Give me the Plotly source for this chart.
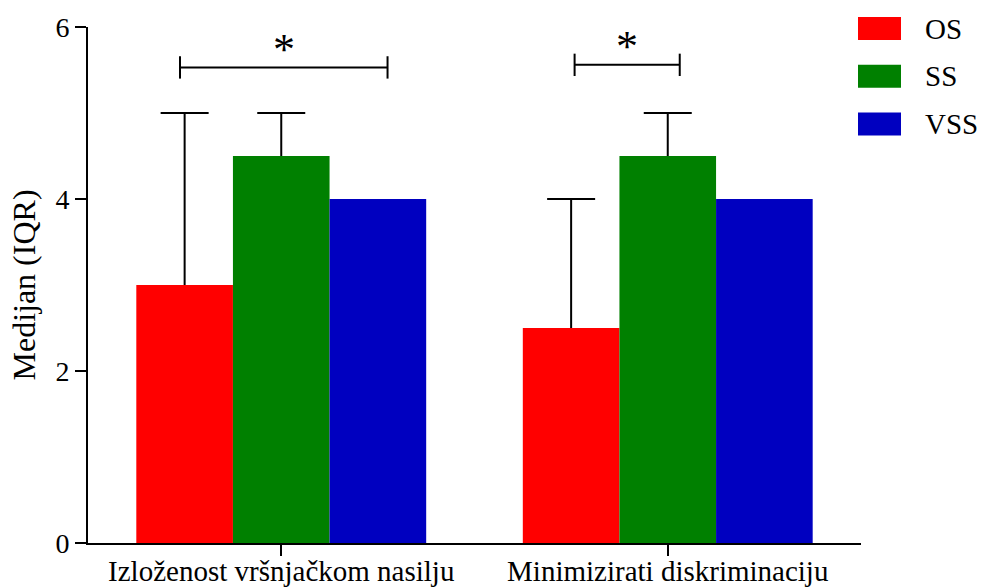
import plotly.graph_objects as go

# ---- data ----
categories = ["Izloženost vršnjačkom nasilju", "Minimizirati diskriminaciju"]
series_names = ["OS", "SS", "VSS"]
series_colors = ["#FF0000", "#008000", "#0000C0"]
median_os = [3.0, 2.5]
median_ss = [4.5, 4.5]
median_vss = [4.0, 4.0]
q3_os = [5.0, 4.0]
q3_ss = [5.0, 5.0]
q3_vss = [4.0, 4.0]
y_ticks = [0, 2, 4, 6]

medians = [median_os, median_ss, median_vss]
q3s = [q3_os, q3_ss, q3_vss]

FONT = "Liberation Serif"
W, H = 982, 587
ML, MR, MT, MB = 88, 121, 27, 44
PW, PH = W - ML - MR, H - MT - MB

fig = go.Figure()

# error-bar carriers (drawn first, so the visible bars cover the lower part)
for i, name in enumerate(series_names):
    plus = [(q - m) if (q - m) > 0 else None for q, m in zip(q3s[i], medians[i])]
    if all(p is None for p in plus):
        continue
    fig.add_trace(go.Bar(
        x=categories, y=medians[i], offsetgroup=str(i),
        marker=dict(color="rgba(0,0,0,0)", line=dict(width=0)),
        error_y=dict(type="data", symmetric=False, array=plus,
                     arrayminus=medians[i], color="black", thickness=2, width=24),
        showlegend=False, hoverinfo="skip",
    ))

# visible bars
for i, name in enumerate(series_names):
    fig.add_trace(go.Bar(
        x=categories, y=medians[i], name=name, offsetgroup=str(i),
        marker=dict(color=series_colors[i], line=dict(width=0)),
        showlegend=False,
    ))

# significance brackets (x in category units, y in data units)
brackets = [(-0.262, 0.275, 5.53), (0.759, 1.031, 5.56)]
shapes = []
annotations = []
for x0, x1, yb in brackets:
    line = dict(color="black", width=2)
    shapes.append(dict(type="line", xref="x", yref="y", x0=x0, x1=x1, y0=yb, y1=yb, line=line))
    for xe in (x0, x1):
        shapes.append(dict(type="line", xref="x", yref="y", x0=xe, x1=xe,
                           y0=yb - 0.13, y1=yb + 0.13, line=line))
    annotations.append(dict(xref="x", yref="y", x=(x0 + x1) / 2, y=yb - 0.1,
                            text="*", showarrow=False, yanchor="bottom",
                            font=dict(family=FONT, size=44, color="black")))

# custom legend (paper coords from pixel layout)
def px_x(p):
    return (p - ML) / PW

def px_y(p):
    return (H - MB - p) / PH

for i, name in enumerate(series_names):
    cy = 28.5 + i * 47.8
    shapes.append(dict(type="rect", xref="paper", yref="paper",
                       x0=px_x(858), x1=px_x(901), y0=px_y(cy + 11.5), y1=px_y(cy - 11.5),
                       fillcolor=series_colors[i], line=dict(width=0)))
    annotations.append(dict(xref="paper", yref="paper", x=px_x(923), y=px_y(cy),
                            xanchor="left", yanchor="middle", text=name, showarrow=False,
                            font=dict(family=FONT, size=29, color="black")))

fig.update_layout(
    width=W, height=H,
    margin=dict(l=ML, r=MR, t=MT, b=MB, autoexpand=False),
    paper_bgcolor="white", plot_bgcolor="white",
    barmode="group", bargap=0.25, bargroupgap=0,
    showlegend=False,
    font=dict(family=FONT, size=28, color="black"),
    shapes=shapes, annotations=annotations,
    xaxis=dict(type="category", range=[-0.5, 1.5], showline=True, linewidth=2,
               linecolor="black", ticks="outside", ticklen=11, tickwidth=2,
               tickcolor="black", showgrid=False, zeroline=False,
               ticklabelstandoff=-10,
               tickfont=dict(family=FONT, size=29, color="black"), automargin=False),
    yaxis=dict(range=[0, 6], tickvals=y_ticks, showline=True, linewidth=2,
               linecolor="black", ticks="outside", ticklen=11, tickwidth=2,
               tickcolor="black", showgrid=False, zeroline=False,
               tickfont=dict(family=FONT, size=28, color="black"),
               title=dict(text="Medijan (IQR)", standoff=10,
                          font=dict(family=FONT, size=32, color="black")),
               automargin=False),
)

fig.write_html("out.html", config={"displayModeBar": False},
               post_script="document.body.style.margin='0px';document.body.style.padding='0px';")
